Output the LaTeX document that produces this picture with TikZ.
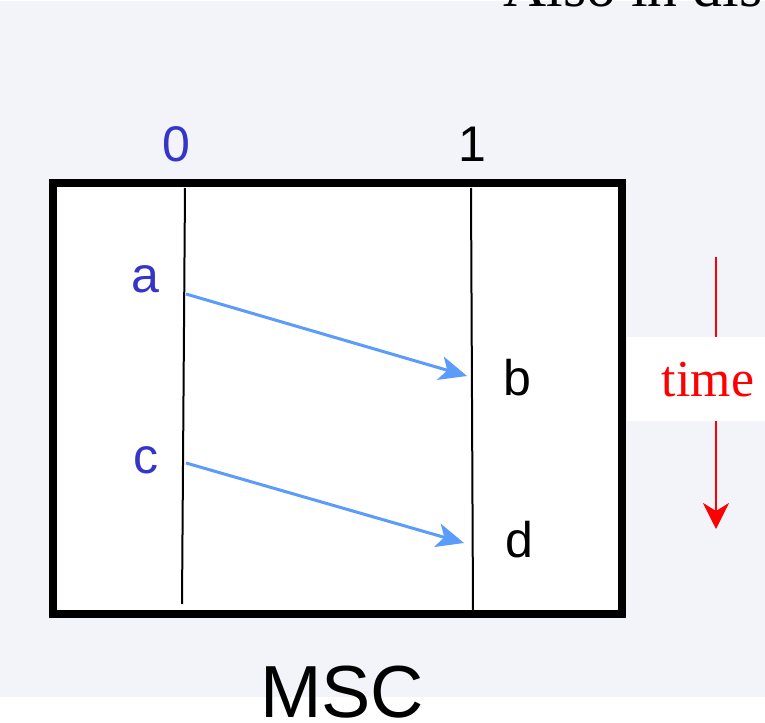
\documentclass[tikz,border=0pt]{standalone}
\usepackage{fontspec}
\setmainfont{Liberation Serif}
\setsansfont{Liberation Sans}
\usetikzlibrary{arrows.meta}
\definecolor{PageGray}{HTML}{F3F4F9}
\definecolor{LabelBlue}{HTML}{3535C8}
\definecolor{MsgBlue}{HTML}{5B9BFA}
\definecolor{TimeRed}{HTML}{FF0000}

\begin{document}
\begin{tikzpicture}[x=0.02cm, y=-0.02cm,
    lbl/.style={anchor=base, inner sep=0pt, font=\sffamily\fontsize{28.5}{30}\selectfont},
    proc/.style={lbl, text=LabelBlue},
    life/.style={line width=0.04cm, color=black},
    msg/.style={-{Stealth[length=0.55cm, width=0.48cm, inset=0.14cm]}, line width=0.06cm, color=MsgBlue},
    tarr/.style={-{Stealth[length=0.52cm, width=0.52cm, inset=0.16cm]}, line width=0.04cm, color=TimeRed},
  ]
    \useasboundingbox (0,0) rectangle (765,723);
    \fill[PageGray] (0,1) rectangle (765,697);

    % Title cut off at the top
    \node[anchor=base west, inner sep=0pt, font=\fontsize{34}{36}\selectfont] (title) at (503,7) {Also in dis};

    % Chart frame
    \draw[line width=0.16cm, fill=white] (53,183) rectangle (621.5,614);

    % Lifelines
    \coordinate (l0top) at (185,188);
    \coordinate (l0bot) at (182,604);
    \coordinate (l1top) at (471,188);
    \coordinate (l1bot) at (473,610);
    \draw[life] (l0top) -- (l0bot);
    \draw[life] (l1top) -- (l1bot);

    \node[proc] (p0) at (176,162) {0};
    \node[lbl]  (p1) at (472,162) {1};

    % Events
    \node[proc] (ea) at (145,293) {a};
    \node[proc] (ec) at (146,473) {c};
    \node[lbl]  (eb) at (517,396) {b};
    \node[lbl]  (ed) at (519,557) {d};

    \coordinate (sa) at (186,294);
    \coordinate (rb) at (467,376);
    \coordinate (sc) at (186,463);
    \coordinate (rd) at (464,543);
    \draw[msg] (sa) -- (rb);
    \draw[msg] (sc) -- (rd);

    % Time axis
    \coordinate (ttop) at (716,257);
    \coordinate (tbot) at (716,529);
    \draw[tarr] (ttop) -- (tbot);
    \node[fill=white, minimum width=2.76cm, minimum height=1.68cm, inner sep=0pt] (tbox) at (696,379) {};
    \node[anchor=base, inner sep=0pt, text=TimeRed, font=\fontsize{29.5}{31}\selectfont] (tlbl) at (708,397) {time};

    % Caption
    \node[anchor=base, inner sep=0pt, font=\sffamily\fontsize{42}{44}\selectfont] (cap) at (342,717) {MSC};
  \end{tikzpicture}
\end{document}
